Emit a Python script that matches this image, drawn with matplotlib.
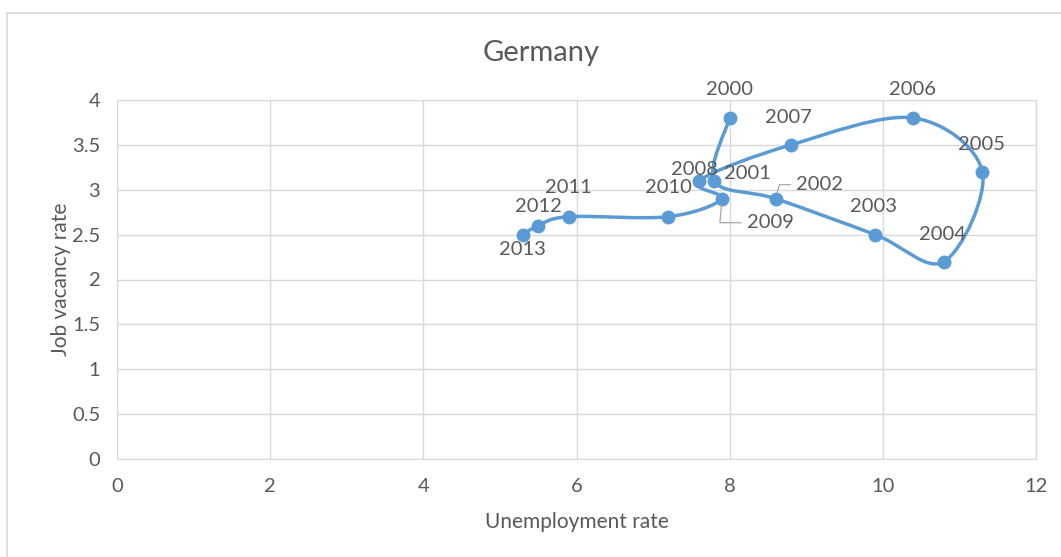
import numpy as np
import matplotlib.pyplot as plt
from matplotlib.path import Path
from matplotlib.patches import PathPatch, Rectangle

plt.rcParams['font.family'] = ['Lato', 'DejaVu Sans']

# Germany: unemployment rate vs job vacancy rate, 2000-2013
years = [2000, 2001, 2002, 2003, 2004, 2005, 2006, 2007,
         2008, 2009, 2010, 2011, 2012, 2013]
unemployment = [8.0, 7.8, 8.6, 9.9, 10.8, 11.3, 10.4, 8.8,
                7.6, 7.9, 7.2, 5.9, 5.5, 5.3]
vacancy = [3.8, 3.1, 2.9, 2.5, 2.2, 3.2, 3.8, 3.5,
           3.1, 2.9, 2.7, 2.7, 2.6, 2.5]

x_ticks = [0, 2, 4, 6, 8, 10, 12]
y_ticks = [0, 0.5, 1, 1.5, 2, 2.5, 3, 3.5, 4]
y_tick_labels = ['0', '0.5', '1', '1.5', '2', '2.5', '3', '3.5', '4']

# label placement in pixels (dx right, dy down) relative to each marker
label_offsets = {
    2000: (0, -28), 2001: (33, -7), 2002: (44, -14), 2003: (-2, -28),
    2004: (-2, -27), 2005: (-1, -27), 2006: (-1, -28), 2007: (-2, -27),
    2008: (-5, -11), 2009: (48, 24), 2010: (0, -29), 2011: (0, -29),
    2012: (0, -19), 2013: (0, 15),
}
leader_angles = {2002: 75, 2009: 85}

blue = '#5B9BD5'
text_grey = '#595959'
grid_grey = '#D9D9D9'

fig = plt.figure(figsize=(10.61, 5.57), dpi=100)
ax = fig.add_axes([117 / 1061, 1 - 459 / 557, (1036 - 117) / 1061, (459 - 100) / 557])

# outer chart border
fig.patches.append(Rectangle((7 / 1061, -0.2), 1.2, 1.2 - 13 / 557,
                             transform=fig.transFigure, fill=False,
                             edgecolor=grid_grey, lw=1.2))

# smoothed line (Catmull-Rom converted to cubic Bezier segments)
pts = np.column_stack([unemployment, vacancy])
n = len(pts)
verts = [pts[0]]
codes = [Path.MOVETO]
for i in range(n - 1):
    p0 = pts[max(i - 1, 0)]
    p1 = pts[i]
    p2 = pts[i + 1]
    p3 = pts[min(i + 2, n - 1)]
    c1 = p1 + (p2 - p0) / 6
    c2 = p2 - (p3 - p1) / 6
    verts += [c1, c2, p2]
    codes += [Path.CURVE4] * 3
ax.add_patch(PathPatch(Path(verts, codes), facecolor='none', edgecolor=blue,
                       lw=2.5, capstyle='round', joinstyle='round', zorder=3))
ax.plot(unemployment, vacancy, 'o', color=blue, ms=9, zorder=4)

for yr, x, y in zip(years, unemployment, vacancy):
    dx, dy = label_offsets[yr]
    kw = {}
    if yr in leader_angles:
        kw['arrowprops'] = dict(arrowstyle='-', color='#A6A6A6', lw=0.9,
                                relpos=(0, 0.5), shrinkA=2, shrinkB=4,
                                connectionstyle='angle,angleA=0,angleB=%d,rad=0'
                                % leader_angles[yr])
    ax.annotate(str(yr), (x, y), xytext=(dx, -dy), textcoords='offset pixels',
                ha='center', va='center', fontsize=14.5, color=text_grey,
                zorder=5, **kw)

ax.set_xlim(0, 12)
ax.set_ylim(0, 4)
ax.set_xticks(x_ticks)
ax.set_yticks(y_ticks)
ax.set_yticklabels(y_tick_labels)
ax.grid(True, color=grid_grey, lw=1)
ax.set_axisbelow(True)
for s in ax.spines.values():
    s.set_color(grid_grey)
ax.tick_params(length=0, labelsize=14.5, labelcolor=text_grey)
ax.tick_params(axis='x', pad=14)
ax.tick_params(axis='y', pad=12)

ax.set_xlabel('Unemployment rate', fontsize=15, color=text_grey, labelpad=12)
ax.set_ylabel('Job vacancy rate', fontsize=15, color=text_grey, labelpad=1)
fig.text(541 / 1061, 1 - 53 / 557, 'Germany', ha='center', va='center',
         fontsize=21, color=text_grey)

fig.savefig('out.png', dpi=100)
